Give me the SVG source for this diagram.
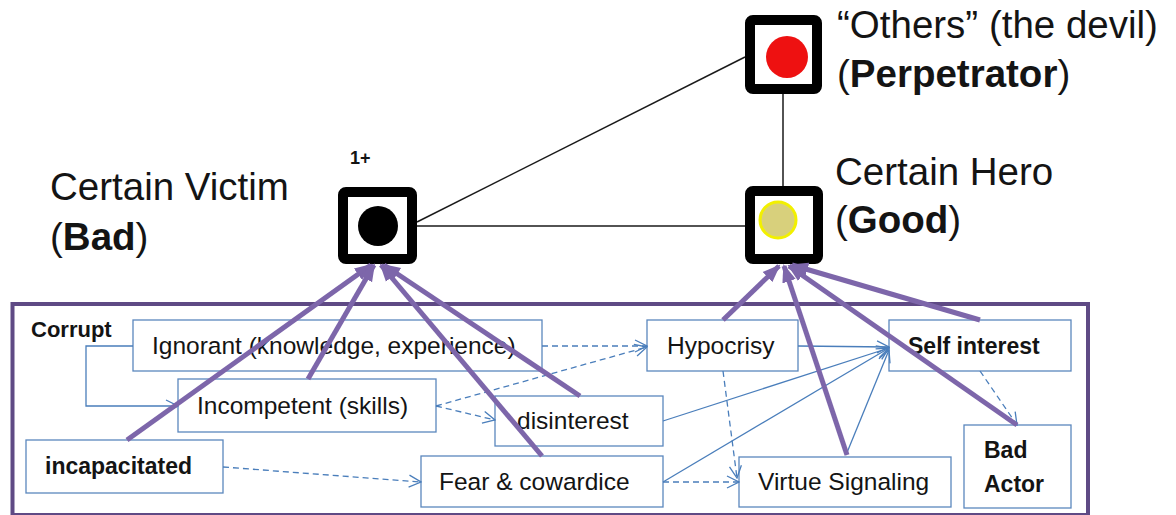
<svg xmlns="http://www.w3.org/2000/svg" width="1176" height="515" viewBox="0 0 1176 515">
<style>
  text { font-family: "Liberation Sans", Arial, sans-serif; fill: #141414; }
  .big { font-size: 38.5px; }
  .bx { font-size: 24.5px; }
  .bxb { font-size: 23px; font-weight: bold; }
  .b { font-weight: bold; }
  .box { fill: #ffffff; stroke: #5b87bd; stroke-width: 1.3; }
  .sq { fill: #ffffff; stroke: #000000; stroke-width: 10; }
  .blk { stroke: #1a1a1a; stroke-width: 1.5; fill: none; }
  .pur { stroke: #7d66aa; stroke-width: 5; fill: none; marker-end: url(#pa); }
  .bl { stroke: #4a7ebb; stroke-width: 1.3; fill: none; marker-end: url(#oa); }
  .dash { stroke-dasharray: 6 4; }
</style>
<defs>
  <marker id="pa" markerUnits="userSpaceOnUse" markerWidth="18" markerHeight="16" viewBox="0 0 18 16" refX="16" refY="8" orient="auto">
    <path d="M0,1 L18,8 L0,15 Z" fill="#7d66aa"/>
  </marker>
  <marker id="oa" markerUnits="userSpaceOnUse" markerWidth="14" markerHeight="14" viewBox="0 0 14 14" refX="13" refY="7" orient="auto">
    <path d="M1,1 L13,7 L1,13" fill="none" stroke="#4a7ebb" stroke-width="1.3"/>
  </marker>
</defs>
<rect width="1176" height="515" fill="#ffffff"/>

<g id="frame">
  <rect x="12.5" y="304" width="1075.5" height="211" fill="none" stroke="#5f4a85" stroke-width="4"/>
</g>

<g id="relations">
  <line class="blk" x1="417" y1="226" x2="745" y2="226"/>
  <line class="blk" x1="417" y1="222" x2="745" y2="57"/>
  <line class="blk" x1="783" y1="94" x2="783" y2="186"/>
</g>

<g id="victim">
  <rect class="sq" x="343" y="192" width="69" height="67" rx="3"/>
  <circle cx="378" cy="226" r="20" fill="#000000"/>
  <text x="350" y="164" class="b" style="font-size:18px">1+</text>
  <text x="50" y="200" class="big">Certain Victim</text>
  <text x="50" y="250" class="big">(<tspan class="b">Bad</tspan>)</text>
</g>

<g id="hero">
  <rect class="sq" x="750" y="191" width="68" height="68" rx="3"/>
  <circle cx="778" cy="220" r="18" fill="#d8d07c" stroke="#f2f000" stroke-width="3"/>
  <text x="835" y="185" class="big">Certain Hero</text>
  <text x="835" y="233" class="big">(<tspan class="b">Good</tspan>)</text>
</g>

<g id="others">
  <rect class="sq" x="750" y="20" width="67" height="69" rx="3"/>
  <circle cx="787" cy="57" r="21" fill="#ee1111"/>
  <text x="837" y="38" class="big">“Others” (the devil)</text>
  <text x="837" y="87" class="big">(<tspan class="b">Perpetrator</tspan>)</text>
</g>

<g id="corrupt-label">
  <text x="31" y="337" class="b" style="font-size:22px">Corrupt</text>
</g>

<g id="ignorant">
  <rect class="box" x="133" y="320" width="409" height="51"/>
  <text x="152" y="354" class="bx">Ignorant (knowledge, experience)</text>
</g>
<g id="incompetent">
  <rect class="box" x="178" y="379" width="258" height="53"/>
  <text x="197" y="414" class="bx">Incompetent (skills)</text>
</g>
<g id="incapacitated">
  <rect class="box" x="26" y="440" width="197" height="53"/>
  <text x="45" y="474" class="bxb">incapacitated</text>
</g>
<g id="disinterest">
  <rect class="box" x="495" y="396" width="168" height="50"/>
  <text x="517" y="429" class="bx">disinterest</text>
</g>
<g id="fear">
  <rect class="box" x="421" y="456" width="242" height="51"/>
  <text x="439" y="490" class="bx">Fear &amp; cowardice</text>
</g>
<g id="hypocrisy">
  <rect class="box" x="647" y="320" width="151" height="51"/>
  <text x="667" y="354" class="bx">Hypocrisy</text>
</g>
<g id="virtue">
  <rect class="box" x="739" y="457" width="212" height="50"/>
  <text x="758" y="490" class="bx">Virtue Signaling</text>
</g>
<g id="self-interest">
  <rect class="box" x="889" y="320" width="182" height="51"/>
  <text x="908" y="354" class="bxb">Self interest</text>
</g>
<g id="bad-actor">
  <rect class="box" x="964" y="425" width="107" height="83"/>
  <text x="984" y="458" class="bxb">Bad</text>
  <text x="984" y="492" class="bxb">Actor</text>
</g>

<g id="connectors">
  <path class="bl" d="M133,346 H86 V406 H178"/>
  <line class="bl dash" x1="542" y1="346" x2="647" y2="346"/>
  <line class="bl dash" x1="436" y1="406" x2="647" y2="347"/>
  <line class="bl dash" x1="436" y1="406" x2="495" y2="420"/>
  <line class="bl dash" x1="223" y1="467" x2="421" y2="482"/>
  <line class="bl dash" x1="663" y1="482" x2="739" y2="482"/>
  <line class="bl dash" x1="723" y1="371" x2="737" y2="478"/>
  <line class="bl dash" x1="980" y1="371" x2="1017" y2="425"/>
  <line class="bl" x1="798" y1="346" x2="889" y2="347"/>
  <line class="bl" x1="663" y1="421" x2="889" y2="348"/>
  <line class="bl" x1="663" y1="482" x2="889" y2="348"/>
  <line class="bl" x1="846" y1="455" x2="889" y2="350"/>

  <line class="pur" x1="127" y1="440" x2="371" y2="265"/>
  <line class="pur" x1="308" y1="379" x2="374" y2="265"/>
  <line class="pur" x1="542" y1="456" x2="381" y2="265"/>
  <line class="pur" x1="580" y1="396" x2="384" y2="265"/>
  <line class="pur" x1="723" y1="320" x2="779" y2="266"/>
  <line class="pur" x1="847" y1="455" x2="784" y2="266"/>
  <line class="pur" x1="980" y1="320" x2="792" y2="265"/>
  <line class="pur" x1="1017" y1="425" x2="789" y2="266"/>
</g>
</svg>
